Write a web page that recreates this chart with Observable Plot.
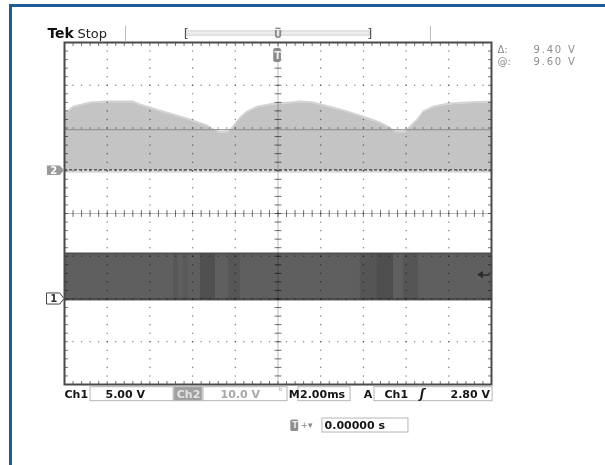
<!DOCTYPE html>
<html><head><meta charset="utf-8">
<script src="https://cdn.jsdelivr.net/npm/d3@7"></script>
<script src="https://cdn.jsdelivr.net/npm/@observablehq/plot@0.6"></script>
<style>
html,body{margin:0;padding:0;background:#fff;}
#wrap{position:relative;width:605px;height:465px;overflow:hidden;}
#border{position:absolute;left:9px;top:4px;right:-10px;bottom:-10px;border-top:3px solid #1d5c9b;border-left:3px solid #1d5c9b;pointer-events:none;}
</style></head><body><div id="wrap"></div>
<script>
// ---- channel set-up (volts/div, ground position in divisions) ----
const ch1 = {voltsPerDiv: 5, position: -2};
const ch2 = {voltsPerDiv: 10, position: 1};
const toDiv = (ch, v) => ch.position + v / ch.voltsPerDiv;

// ---- Ch2: upper envelope of the trace (V) vs time (ms) ----
const ch2Time = [-10,-9.58,-8.78,-7.99,-6.77,-6.44,-5.64,-4.89,-4.10,-3.30,-3.02,-2.69,-2.32,-2.08,-1.76,-1.43,-0.96,-0.21,0.59,1.05,1.66,2.46,3.26,4.00,4.80,5.27,5.50,5.97,6.21,6.53,6.81,7.28,7.94,8.88,10];
const ch2Peak = [13.0,14.7,15.7,15.9,15.9,15.2,14.0,12.9,11.7,10.3,9.4,8.7,8.9,10.1,12.2,13.6,14.7,15.4,15.7,15.9,15.7,14.7,13.6,12.4,11.0,9.8,8.9,8.9,10.1,11.7,13.6,14.7,15.4,15.7,15.9];

// ---- Ch1: switching band 0..high (V) ----
const ch1Time = [-10, 10];
const ch1High = [5.3, 5.3];
const stripeStart = [-4.89,-4.43,-3.63,-2.32,3.86,4.66,5.88];
const stripeEnd   = [-4.66,-4.19,-2.93,-1.76,4.66,5.41,6.58];
const stripeShade = ["#585858","#5a5a5a","#505050","#565656","#555555","#4e4e4e","#555555"];

// ---- cursors / trigger ----
const cursorAt = 9.60, cursorDelta = 9.40, triggerLevel = 2.80;

// ---- graticule ----
const xMajor = [-8,-6,-4,-2,2,4,6,8];
const yMajor = [-3,-2,-1,1,2,3];
const xFifths = d3.range(-10, 10.0001, 0.4);
const yFifths = d3.range(-4, 4.0001, 0.2);
const gridDots = [...d3.cross(xMajor, yFifths), ...d3.cross(xFifths, yMajor)];

const ch2Data = ch2Time.map((t, i) => ({t, v: ch2Peak[i]}));
const ch1Data = ch1Time.map((t, i) => ({t, v: ch1High[i]}));
const stripes = stripeStart.map((s, i) => ({s, e: stripeEnd[i], c: stripeShade[i]}));

// ---- readouts ----
const rowB = -4.234, rowS = -4.959, rowT = 4.211;
const boxes = [
  {x1:-8.78, x2:-4.89, y1:-4.063, y2:-4.39, f:"#fff"},
  {x1:-4.85, x2:-3.54, y1:-4.063, y2:-4.39, f:"#a0a0a0"},
  {x1:-3.49, x2:0.445, y1:-4.063, y2:-4.39, f:"#fff"},
  {x1:0.96, x2:3.40, y1:-4.063, y2:-4.39, f:"#fff"},
  {x1:4.52, x2:10.05, y1:-4.063, y2:-4.39, f:"#fff"},
  {x1:2.08, x2:6.11, y1:-4.795, y2:-5.123, f:"#fff"}
];
const boldDark = [
  {t:-10.0, d:rowB, s:"Ch1"},
  {t:-8.08, d:rowB, s:"5.00 V"},
  {t:0.50, d:rowB, s:"M"},
  {t:1.03, d:rowB, s:"2.00ms"},
  {t:4.02, d:rowB, s:"A"},
  {t:4.99, d:rowB, s:"Ch1"},
  {t:2.18, d:rowS, s:"0.00000 s"}
];
const readoutLabels = [{t:10.28, d:3.83, s:"Δ:"}, {t:10.28, d:3.545, s:"@:"}];
const readoutValues = [{t:11.97, d:3.83, s:"9.40 V"}, {t:11.97, d:3.545, s:"9.60 V"}];
const ch2Marker = [{t:-10.80, lo:0.89, hi:1.11},{t:-10.20, lo:0.89, hi:1.11},{t:-10.0, lo:1.0, hi:1.0}];
const ch1Marker = [{t:-10.80, lo:-2.13, hi:-1.87},{t:-10.20, lo:-2.13, hi:-1.87},{t:-10.0, lo:-2.0, hi:-2.0}];
const trigArrow = [{t:9.35, lo:toDiv(ch1, triggerLevel), hi:toDiv(ch1, triggerLevel)}, {t:9.62, lo:toDiv(ch1, triggerLevel) - 0.085, hi:toDiv(ch1, triggerLevel) + 0.085}];

const F = "DejaVu Sans";
const grid = {mixBlendMode: "multiply"};
const chart = Plot.plot({
  width: 605, height: 465,
  marginLeft: 64, marginRight: 114, marginTop: 42, marginBottom: 81,
  x: {domain: [-10, 10], axis: null},
  y: {domain: [-4, 4], axis: null},
  style: {background: "white", fontFamily: F, overflow: "visible"},
  marks: [
    // Ch2 trace
    Plot.area(ch2Data, {x1: "t", y1: () => toDiv(ch2, -0.6), y2: () => toDiv(ch2, 0), fill: "#dadada"}),
    Plot.area(ch2Data, {x1: "t", y1: d => toDiv(ch2, d.v), y2: d => toDiv(ch2, d.v + 0.4), fill: "#d2d2d2"}),
    Plot.area(ch2Data, {x1: "t", y1: () => toDiv(ch2, 0), y2: d => toDiv(ch2, d.v), fill: "#c4c4c4"}),
    // Ch1 band
    Plot.area(ch1Data, {x1: "t", y1: () => toDiv(ch1, -0.3), y2: () => toDiv(ch1, 0), fill: "#b0b0b0"}),
    Plot.area(ch1Data, {x1: "t", y1: d => toDiv(ch1, d.v), y2: d => toDiv(ch1, d.v + 0.15), fill: "#a8a8a8"}),
    Plot.area(ch1Data, {x1: "t", y1: () => toDiv(ch1, 0), y2: d => toDiv(ch1, d.v), fill: "#5f5f5f"}),
    Plot.rect(stripes, {x1: "s", x2: "e", y1: () => toDiv(ch1, 0), y2: () => toDiv(ch1, ch1High[0]), fill: "c"}),
    Plot.line(ch1Data, {x: "t", y: d => toDiv(ch1, d.v), stroke: "#474747", strokeWidth: 1}),
    Plot.line(ch1Data, {x: "t", y: () => toDiv(ch1, 0), stroke: "#2e2e2e", strokeWidth: 1.5}),
    // graticule
    Plot.dot(gridDots, {x: d => d[0], y: d => d[1], r: 0.8, fill: "#8c8c8c", stroke: null, ...grid}),
    Plot.ruleX([0], {stroke: "#bcbcbc", strokeWidth: 1, ...grid}),
    Plot.ruleY([0], {stroke: "#bcbcbc", strokeWidth: 1, ...grid}),
    Plot.link(yFifths, {x1: -0.16, x2: 0.16, y1: d => d, y2: d => d, stroke: "#6e6e6e", ...grid}),
    Plot.link(xFifths, {x1: d => d, x2: d => d, y1: -0.08, y2: 0.08, stroke: "#6e6e6e", ...grid}),
    Plot.link(xFifths, {x1: d => d, x2: d => d, y1: 4, y2: 3.92, stroke: "#6e6e6e", ...grid}),
    Plot.link(xFifths, {x1: d => d, x2: d => d, y1: -4, y2: -3.92, stroke: "#6e6e6e", ...grid}),
    Plot.link(yFifths, {x1: -10, x2: -9.84, y1: d => d, y2: d => d, stroke: "#6e6e6e", ...grid}),
    Plot.link(yFifths, {x1: 10, x2: 9.84, y1: d => d, y2: d => d, stroke: "#6e6e6e", ...grid}),
    // cursors
    Plot.ruleY([toDiv(ch2, cursorAt)], {stroke: "#8a8a8a", strokeWidth: 1}),
    Plot.ruleY([toDiv(ch2, cursorAt - cursorDelta)], {stroke: "#3c3c3c", strokeWidth: 1.2, strokeDasharray: "3,2"}),
    Plot.frame({stroke: "#4a4a4a", strokeWidth: 2}),
    // trigger marks
    Plot.rect([0], {x1: -0.2, x2: 0.16, y1: 3.53, y2: 3.86, fill: "#8a8a8a", rx: 2}),
    Plot.text(["T"], {x: -0.02, y: 3.70, text: d => d, fill: "#eee", fontSize: 10, fontWeight: "bold"}),
    Plot.link([triggerLevel], {x1: 9.55, x2: 9.90, y1: d => toDiv(ch1, d), y2: d => toDiv(ch1, d), stroke: "#2a2a2a", strokeWidth: 1.5}),
    Plot.area(trigArrow, {x1: "t", y1: "lo", y2: "hi", fill: "#2a2a2a"}),
    // channel markers
    Plot.area(ch2Marker, {x1: "t", y1: "lo", y2: "hi", fill: "#9a9a9a"}),
    Plot.text(["2"], {x: -10.5, y: toDiv(ch2, 0), text: d => d, fill: "#fff", fontSize: 10, fontWeight: "bold"}),
    Plot.area(ch1Marker, {x1: "t", y1: "lo", y2: "hi", fill: "#fff", stroke: "#444", strokeWidth: 1}),
    Plot.text(["1"], {x: -10.5, y: toDiv(ch1, 0), text: d => d, fill: "#333", fontSize: 10, fontWeight: "bold"}),
    // header
    Plot.text(["Tek"], {x: -10.80, y: rowT, text: d => d, fontSize: 14, fontWeight: "bold", fill: "#111", textAnchor: "start"}),
    Plot.text(["Stop"], {x: -9.39, y: rowT, text: d => d, fontSize: 13, fill: "#222", textAnchor: "start"}),
    Plot.ruleX([-7.14, 7.14], {y1: 4.0, y2: 4.38, stroke: "#bbb"}),
    Plot.rect([0], {x1: -4.30, x2: 4.30, y1: 4.16, y2: 4.26, fill: "#ececec", stroke: "#d2d2d2"}),
    Plot.text(["["], {x: -4.42, y: rowT, text: d => d, fontSize: 13, fill: "#555", textAnchor: "start"}),
    Plot.text(["]"], {x: 4.42, y: rowT, text: d => d, fontSize: 13, fill: "#555", textAnchor: "end"}),
    Plot.text(["U"], {x: 0, y: 4.17, text: d => d, fontSize: 10, fontWeight: "bold", fill: "#8a8a8a"}),
    Plot.link([0], {x1: -0.12, x2: 0.12, y1: 4.33, y2: 4.33, stroke: "#8a8a8a", strokeWidth: 1.5}),
    // readout boxes
    Plot.rect(boxes, {x1: "x1", x2: "x2", y1: "y1", y2: "y2", fill: d => d.f, stroke: "#b5b5b5", strokeWidth: 1}),
    Plot.text(boldDark, {x: "t", y: "d", text: "s", fontSize: 11, fontWeight: "bold", fill: "#151515", textAnchor: "start"}),
    Plot.text(["ʃ"], {x: 6.75, y: rowB, text: d => d, fontSize: 12, fontWeight: "bold", fill: "#151515", fontStyle: "italic"}),
    Plot.text(["2.80 V"], {x: 9.93, y: rowB, text: d => d, fontSize: 11, fontWeight: "bold", fill: "#151515", textAnchor: "end"}),
    Plot.text(["Ch2"], {x: -4.19, y: rowB, text: d => d, fontSize: 11, fontWeight: "bold", fill: "#e4e4e4"}),
    Plot.text(["10.0 V"], {x: -2.69, y: rowB, text: d => d, fontSize: 11, fontWeight: "bold", fill: "#a8a8a8", textAnchor: "start"}),
    Plot.text(["ᵇ"], {x: 0.12, y: -4.16, text: d => d, fontSize: 9, fill: "#aaa"}),
    Plot.rect([0], {x1: 0.60, x2: 0.97, y1: -4.83, y2: -5.10, fill: "#8f8f8f", rx: 1.5}),
    Plot.text(["T"], {x: 0.79, y: rowS, text: d => d, fontSize: 8, fontWeight: "bold", fill: "#eee"}),
    Plot.text(["+▾"], {x: 1.05, y: rowS, text: d => d, fontSize: 9, fill: "#888", textAnchor: "start"}),
    Plot.text(readoutLabels, {x: "t", y: "d", text: "s", fontSize: 10, fill: "#8c8c8c", textAnchor: "start"}),
    Plot.text(readoutValues, {x: "t", y: "d", text: "s", fontSize: 10, fill: "#8d8d8d", textAnchor: "start"}),
  ]
});
const wrap = document.getElementById("wrap");
wrap.appendChild(chart);
// widen spacing of the grey cursor values
chart.querySelectorAll("text").forEach(t => { if (t.getAttribute("fill") === "#8d8d8d" || (t.parentNode && t.parentNode.getAttribute("fill") === "#8d8d8d")) t.style.letterSpacing = "1.8px"; });
const b = document.createElement("div"); b.id = "border"; wrap.appendChild(b);
</script></body></html>
